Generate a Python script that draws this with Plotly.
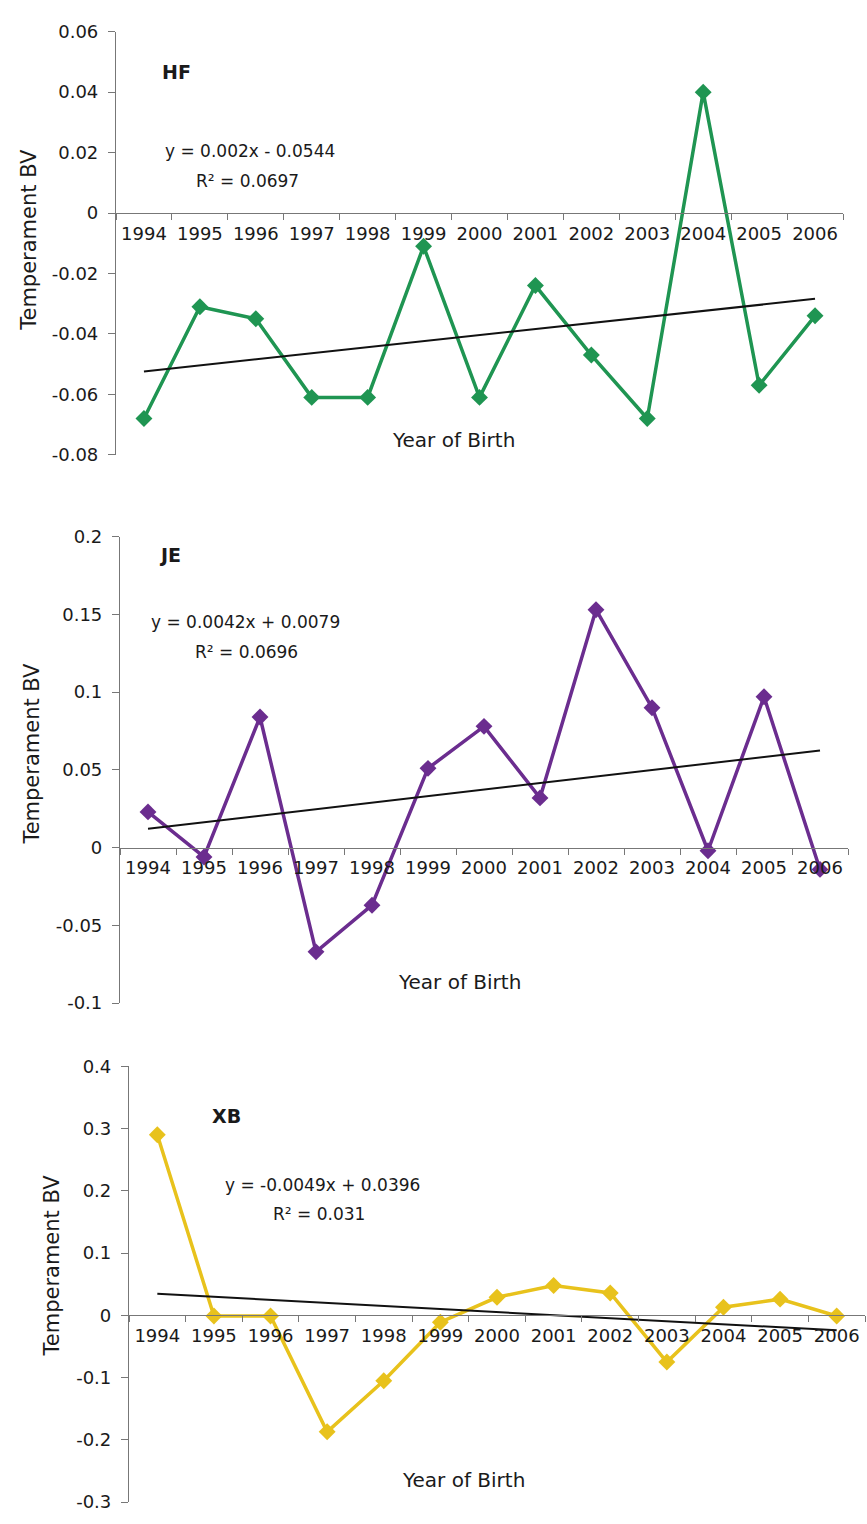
import plotly.graph_objects as go

W, H = 867, 1524

years = ["1994", "1995", "1996", "1997", "1998", "1999", "2000",
         "2001", "2002", "2003", "2004", "2005", "2006"]

hf_values = [-0.068, -0.031, -0.035, -0.061, -0.061, -0.011, -0.061,
             -0.024, -0.047, -0.068, 0.040, -0.057, -0.034]
je_values = [0.023, -0.006, 0.084, -0.067, -0.037, 0.051, 0.078,
             0.032, 0.153, 0.090, -0.002, 0.097, -0.014]
xb_values = [0.290, -0.001, -0.001, -0.187, -0.105, -0.011, 0.029,
             0.048, 0.036, -0.075, 0.013, 0.026, -0.001]

breeds = ["HF", "JE", "XB"]
series = [hf_values, je_values, xb_values]
colors = ["#1f9552", "#6b2d8f", "#e8c21c"]
slopes = [0.002, 0.0042, -0.0049]
intercepts = [-0.0544, 0.0079, 0.0396]
equations = ["y = 0.002x - 0.0544", "y = 0.0042x + 0.0079", "y = -0.0049x + 0.0396"]
r2_texts = ["R² = 0.0697", "R² = 0.0696", "R² = 0.031"]

y_ranges = [[-0.08, 0.06], [-0.1, 0.2], [-0.3, 0.4]]
hf_ticks = [0.06, 0.04, 0.02, 0, -0.02, -0.04, -0.06, -0.08]
hf_ticktext = ["0.06", "0.04", "0.02", "0", "-0.02", "-0.04", "-0.06", "-0.08"]
je_ticks = [0.2, 0.15, 0.1, 0.05, 0, -0.05, -0.1]
je_ticktext = ["0.2", "0.15", "0.1", "0.05", "0", "-0.05", "-0.1"]
xb_ticks = [0.4, 0.3, 0.2, 0.1, 0, -0.1, -0.2, -0.3]
xb_ticktext = ["0.4", "0.3", "0.2", "0.1", "0", "-0.1", "-0.2", "-0.3"]
tick_vals = [hf_ticks, je_ticks, xb_ticks]
tick_texts = [hf_ticktext, je_ticktext, xb_ticktext]

# layout in pixels (left, right, top, bottom) of each plot area
boxes = [(116, 843, 21, 450), (120, 848, 533, 1006), (129, 865, 1070, 1512)]
# text positions (pixels)
label_pos = [(160, 62), (157, 552), (210, 1120)]
eq_pos = [(250, 142), (245, 620), (322, 1190)]
r2_pos = [(247, 172), (246, 650), (319, 1220)]
xtitle_pos = [(453, 435), (459, 985), (464, 1490)]
ytitle_pos = [(29, 232), (32, 753), (52, 1272)]

FONT = "DejaVu Sans"
TXT = "#1a1a1a"

def px(x):
    return x / W

def py(y):
    return 1 - y / H

fig = go.Figure()
annotations = []
for i, (name, vals) in enumerate(zip(breeds, series)):
    sfx = "" if i == 0 else str(i + 1)
    xa, ya = "x" + sfx, "y" + sfx
    idx = list(range(1, len(years) + 1))
    trend = [slopes[i] * k + intercepts[i] for k in idx]
    fig.add_trace(go.Scatter(
        x=years, y=vals, mode="lines+markers", xaxis=xa, yaxis=ya,
        line=dict(color=colors[i], width=3.5),
        marker=dict(symbol="diamond", size=13, color=colors[i]),
        showlegend=False, name=name))
    fig.add_trace(go.Scatter(
        x=years, y=trend, mode="lines", xaxis=xa, yaxis=ya,
        line=dict(color="#111111", width=2), showlegend=False,
        name=name + " trend"))

    l, r, t, b = boxes[i]
    d0, d1 = py(b), py(t)
    r0, r1 = y_ranges[i]
    zero_pos = d0 + (0 - r0) / (r1 - r0) * (d1 - d0)

    fig.update_layout(**{
        "xaxis" + sfx: dict(
            domain=[px(l), px(r)], anchor="free", position=zero_pos,
            type="category", tickson="boundaries", ticks="outside",
            ticklen=6, tickcolor="#777", showline=True, linecolor="#777",
            linewidth=1.2, showgrid=False, zeroline=False,
            tickfont=dict(family=FONT, size=18, color=TXT),
            ticklabelstandoff=4, range=[-0.5, 12.5]),
        "yaxis" + sfx: dict(
            domain=[d0, d1], anchor=xa, range=y_ranges[i],
            tickmode="array", tickvals=tick_vals[i], ticktext=tick_texts[i],
            ticks="outside", ticklen=7, tickcolor="#777",
            showline=True, linecolor="#777", linewidth=1.2,
            showgrid=False, zeroline=False,
            tickfont=dict(family=FONT, size=18, color=TXT),
            ticklabelstandoff=6),
    })

    annotations.append(dict(
        x=px(label_pos[i][0]), y=py(label_pos[i][1]), xref="paper", yref="paper",
        text="<b>" + name + "</b>", showarrow=False, xanchor="left", yanchor="middle",
        font=dict(family=FONT, size=19, color=TXT)))
    annotations.append(dict(
        x=px(eq_pos[i][0]), y=py(eq_pos[i][1]), xref="paper", yref="paper",
        text=equations[i], showarrow=False, xanchor="center", yanchor="middle",
        font=dict(family=FONT, size=17, color=TXT)))
    annotations.append(dict(
        x=px(r2_pos[i][0]), y=py(r2_pos[i][1]), xref="paper", yref="paper",
        text=r2_texts[i], showarrow=False, xanchor="center", yanchor="middle",
        font=dict(family=FONT, size=17, color=TXT)))
    annotations.append(dict(
        x=px(xtitle_pos[i][0]), y=py(xtitle_pos[i][1]), xref="paper", yref="paper",
        text="Year of Birth", showarrow=False, xanchor="center", yanchor="middle",
        font=dict(family=FONT, size=20, color=TXT)))
    annotations.append(dict(
        x=px(ytitle_pos[i][0]), y=py(ytitle_pos[i][1]), xref="paper", yref="paper",
        text="Temperament BV", textangle=-90, showarrow=False,
        xanchor="center", yanchor="middle",
        font=dict(family=FONT, size=21, color=TXT)))

fig.update_layout(
    width=W, height=H, margin=dict(l=0, r=0, t=0, b=0),
    paper_bgcolor="white", plot_bgcolor="rgba(0,0,0,0)",
    annotations=annotations)

fig.write_html("out.html")
